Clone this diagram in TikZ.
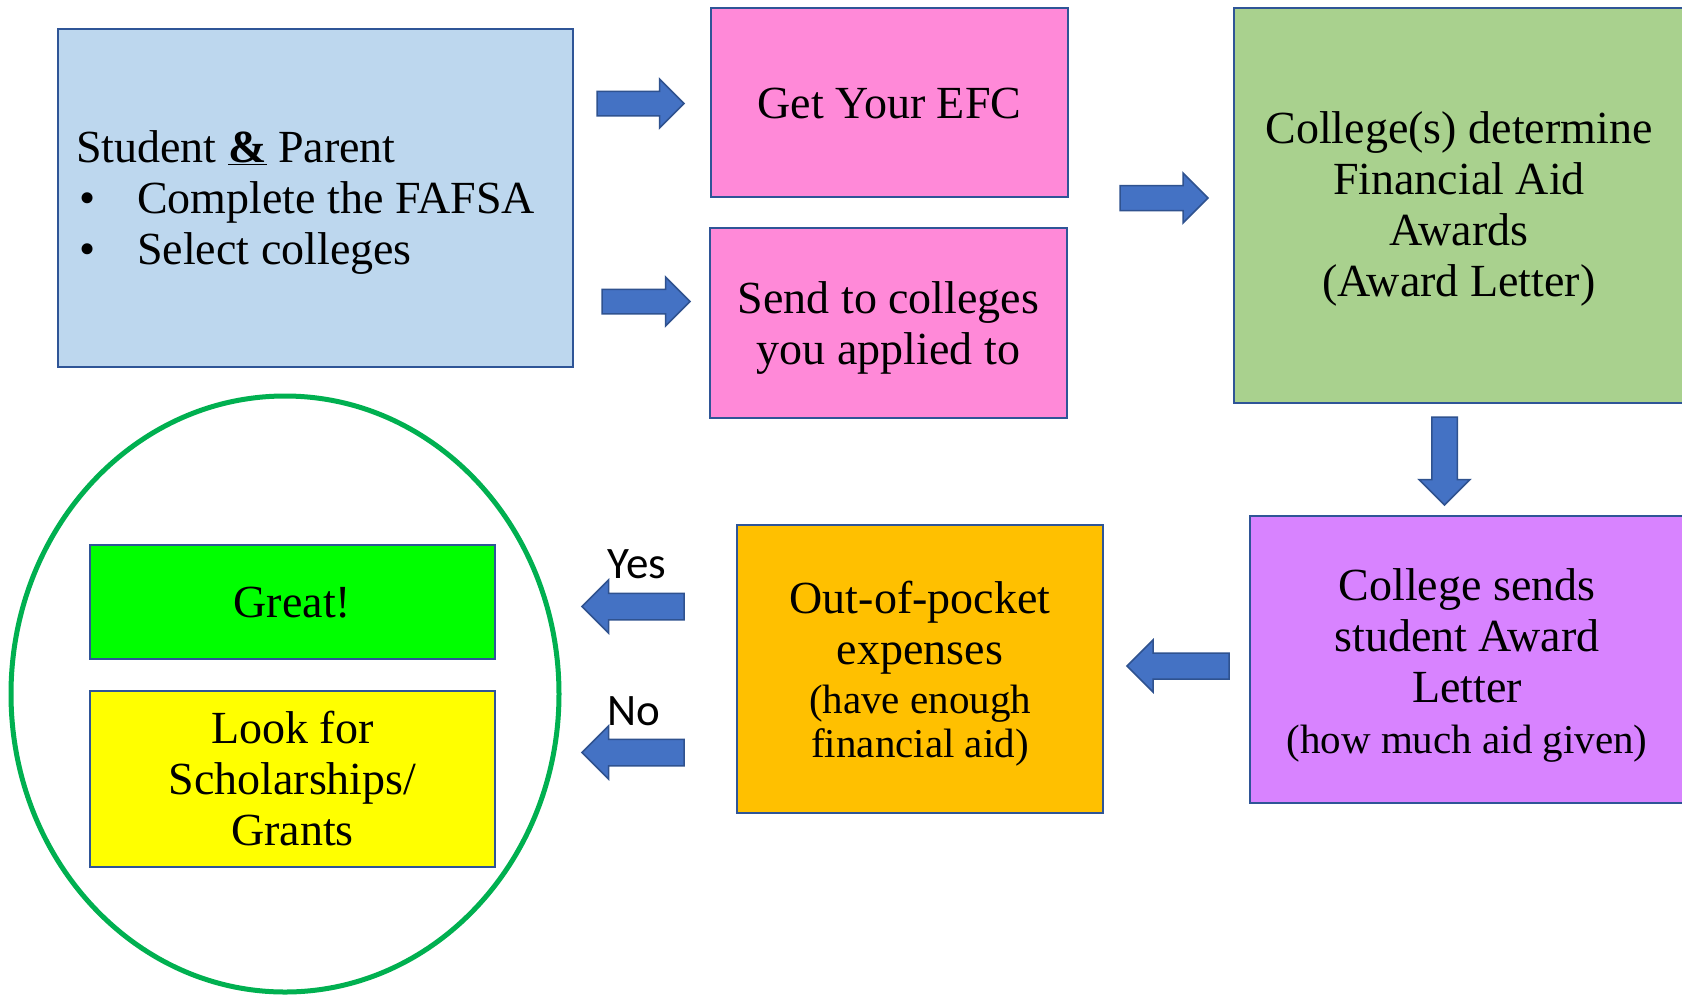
\documentclass[tikz,border=0pt]{standalone}
\usepackage{fontspec}
\setmainfont{Liberation Serif}
\newfontfamily\calib{Carlito}
\usetikzlibrary{shapes.geometric}
\definecolor{bordc}{HTML}{2F5597}
\definecolor{bluef}{HTML}{BDD7EE}
\definecolor{pinkf}{HTML}{FF89D8}
\definecolor{greenf}{HTML}{A9D18E}
\definecolor{purplef}{HTML}{D883FF}
\definecolor{orangef}{HTML}{FFC000}
\definecolor{greatf}{HTML}{00FF00}
\definecolor{yellowf}{HTML}{FFFF00}
\definecolor{arrf}{HTML}{4472C4}
\definecolor{arrb}{HTML}{2F528F}
\definecolor{ellc}{HTML}{00B050}
\newcommand\fbig{\fontsize{46}{51}\selectfont}
\newcommand\fsmall{\fontsize{41}{45}\selectfont}
\tikzset{
  box/.style={draw=bordc, line width=2pt, inner sep=0pt},
  txt/.style={inner sep=0pt, align=center, font=\fbig},
  arrowsty/.style={fill=arrf, draw=arrb, line width=1.5pt, line join=miter},
  yesno/.style={font=\calib\fontsize{45}{54}\selectfont, anchor=base, inner sep=0pt}
}
% block arrow: cx, cy, rotation, length, width
\newcommand\barrow[5]{%
  \draw[arrowsty, shift={(#1,#2)}, rotate=#3]
    ({-#4/2},{-#5/4}) -- ({#4/2-#5/2},{-#5/4}) -- ({#4/2-#5/2},{-#5/2}) --
    ({#4/2},0) -- ({#4/2-#5/2},{#5/2}) -- ({#4/2-#5/2},{#5/4}) --
    ({-#4/2},{#5/4}) -- cycle;}
\begin{document}
\begin{tikzpicture}[x=1pt,y=-1pt]
\useasboundingbox (0,0) rectangle (1682,997);
\clip (0,0) rectangle (1682,997);
\fill[white] (0,0) rectangle (1682,997);

% top row
\node[box, fill=bluef, minimum width=515, minimum height=338] (stud) at (315.5,198) {};
\node[anchor=west, align=left, font=\fbig, inner sep=0pt] (studtxt) at (76,202)
  {Student \underline{\textbf{\&}} Parent\\
   \hspace*{3pt}\makebox[58pt][l]{\textbullet}Complete the FAFSA\\
   \hspace*{3pt}\makebox[58pt][l]{\textbullet}Select colleges};

\node[box, fill=pinkf, minimum width=357, minimum height=189.5] (efc) at (889.5,102.25) {};
\node[txt] (efctxt) at ([yshift=-1.5pt]efc.center) {Get Your EFC};
\node[box, fill=pinkf, minimum width=357, minimum height=190] (send) at (888.5,323) {};
\node[txt] (sendtxt) at ([yshift=-5pt]send.center) {Send to colleges\\you applied to};
\node[box, fill=greenf, minimum width=450, minimum height=395.5] (det) at (1459,205.25) {};
\node[txt] (dettxt) at ([yshift=-4pt]det.center)
  {College(s) determine\\Financial Aid\\Awards\\(Award Letter)};

% bottom row
\node[box, fill=purplef, minimum width=434, minimum height=287] (sends) at (1467,659.5) {};
\node[txt] (sendstxt) at ([yshift=-6pt]sends.center)
  {College sends\\student Award\\Letter\\{\fsmall (how much aid given)}};
\node[box, fill=orangef, minimum width=366, minimum height=288] (oop) at (920,669) {};
\node[txt] (ooptxt) at ([yshift=-5pt]oop.center)
  {Out-of-pocket\\expenses\\[-2pt]{\fsmall (have enough}\\[-7pt]{\fsmall financial aid)}};

\node[draw=ellc, line width=5pt, ellipse, minimum width=548, minimum height=596, inner sep=0pt] (circ) at (285,694) {};
\node[box, fill=greatf, minimum width=405, minimum height=114] (great) at (292.5,602) {};
\node[txt] (greattxt) at ([yshift=-1pt]great.center) {Great!};
\node[box, fill=yellowf, minimum width=405, minimum height=176] (look) at (292.5,779) {};
\node[txt] (looktxt) at (look.center) {Look for\\Scholarships/\\Grants};

\node[yesno] (yes) at (637,578) {Yes};
\node[yesno] (no) at (634,725) {No};

% block arrows
\barrow{640.5}{103.5}{0}{87}{49}
\barrow{646}{301.5}{0}{88}{49}
\barrow{1164}{198}{0}{88}{50}
\barrow{1444.5}{461}{-90}{88}{51}
\barrow{1178}{666}{180}{102}{52}
\barrow{633}{606.5}{180}{102}{53}
\barrow{633}{752.5}{180}{102}{53}
\end{tikzpicture}
\end{document}
